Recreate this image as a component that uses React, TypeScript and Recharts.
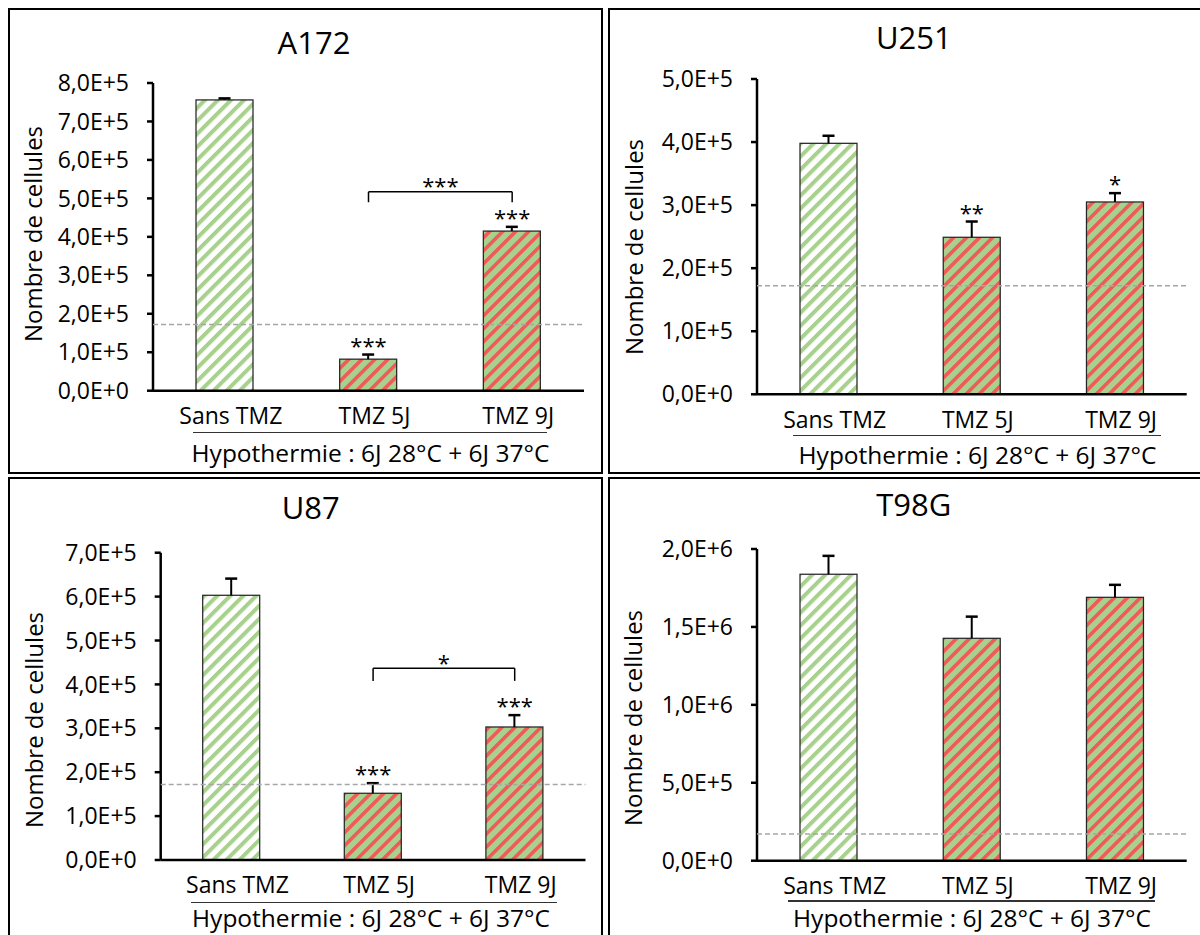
import {
  Bar,
  BarChart,
  Cell,
  ReferenceDot,
  ReferenceLine,
  XAxis,
  YAxis,
} from "recharts";

const CATEGORIES = ["Sans TMZ", "TMZ 5J", "TMZ 9J"];
const GROUP_LABEL = "Hypothermie : 6J 28°C + 6J 37°C";
const Y_LABEL = "Nombre de cellules";
const THRESHOLD = 172000;

const A172_VALUES = [756000, 82000, 415000];
const A172_ERRORS = [4000, 12000, 11000];
const A172_STARS = ["", "***", "***"];
const A172_TICKS = [0, 100000, 200000, 300000, 400000, 500000, 600000, 700000, 800000];
const A172_BRACKET = { from: "TMZ 5J", to: "TMZ 9J", top: 517000, leg: 490000, label: "***" };

const U251_VALUES = [398000, 249000, 305000];
const U251_ERRORS = [12000, 25000, 14000];
const U251_STARS = ["", "**", "*"];
const U251_TICKS = [0, 100000, 200000, 300000, 400000, 500000];

const U87_VALUES = [603000, 152000, 303000];
const U87_ERRORS = [38000, 23000, 27000];
const U87_STARS = ["", "***", "***"];
const U87_TICKS = [0, 100000, 200000, 300000, 400000, 500000, 600000, 700000];
const U87_BRACKET = { from: "TMZ 5J", to: "TMZ 9J", top: 437000, leg: 408000, label: "*" };

const T98G_VALUES = [1838000, 1427000, 1690000];
const T98G_ERRORS = [118000, 139000, 80000];
const T98G_STARS = ["", "", ""];
const T98G_TICKS = [0, 500000, 1000000, 1500000, 2000000];

const GREEN = "#a9d18e";
const RED = "#f05a5a";
const FONT = "'Open Sans', sans-serif";
const PANEL_W = 595;
const PANEL_H = 466;
const Y_AXIS_W = 100;
const X_AXIS_H = 40;

// "8,0E+5" style, like the Excel axis
function sci(v: number) {
  if (v === 0) return "0,0E+0";
  const exp = Math.floor(Math.log10(v) + 1e-9);
  const mant = (v / Math.pow(10, exp)).toFixed(1).replace(".", ",");
  return `${mant}E+${exp}`;
}

// bar + plus-only error bar (Excel style), error length taken from the bar's own scale
function BarWithError(props: any) {
  const { x, y, width, height, fill, payload } = props;
  if (!payload || !height) return null;
  const pxPerUnit = height / payload.value;
  const errTop = y - payload.err * pxPerUnit;
  const cx = x + width / 2;
  return (
    <g>
      <rect x={x} y={y} width={width} height={height} fill={fill} stroke="#262626" strokeWidth={1.25} />
      <line x1={cx} y1={y} x2={cx} y2={errTop} stroke="#000" strokeWidth={2} />
      <line x1={cx - 6} y1={errTop} x2={cx + 6} y2={errTop} stroke="#000" strokeWidth={2.5} />
    </g>
  );
}

type Bracket = { from: string; to: string; top: number; leg: number; label: string };

interface Layout {
  left: number;
  top: number;
  axisX: number;
  plotRight: number;
  plotTop: number;
  plotBottom: number;
  titleX: number;
  titleY: number;
  yLabelX: number;
  yLabelY: number;
  lineX1: number;
  lineX2: number;
  lineY: number;
  groupX: number;
  groupY: number;
}

interface PanelProps {
  id: string;
  title: string;
  values: number[];
  errors: number[];
  stars: string[];
  ticks: number[];
  bracket?: Bracket;
  layout: Layout;
}

function Panel({ id, title, values, errors, stars, ticks, bracket, layout: l }: PanelProps) {
  const data = CATEGORIES.map((name, i) => ({
    name,
    value: values[i],
    err: errors[i],
  }));
  const margin = {
    left: l.axisX - l.left - Y_AXIS_W,
    right: l.left + PANEL_W - l.plotRight,
    top: l.plotTop - l.top,
    bottom: l.top + PANEL_H - l.plotBottom - X_AXIS_H,
  };
  const starLabel = (value: string, offset: number) => ({
    value,
    position: "top" as const,
    offset,
    fill: "#000",
    fontSize: 22,
  });
  const bracketLines = bracket
    ? [
        { key: "h", seg: [{ x: bracket.from, y: bracket.top }, { x: bracket.to, y: bracket.top }], label: true },
        { key: "l", seg: [{ x: bracket.from, y: bracket.top }, { x: bracket.from, y: bracket.leg }], label: false },
        { key: "r", seg: [{ x: bracket.to, y: bracket.top }, { x: bracket.to, y: bracket.leg }], label: false },
      ]
    : [];

  return (
    <>
      <div
        style={{
          position: "absolute",
          left: l.left,
          top: l.top,
          width: PANEL_W,
          height: PANEL_H,
          border: "2px solid #000",
          boxSizing: "border-box",
          background: "#fff",
        }}
      />
      <div style={{ position: "absolute", left: l.left, top: l.top }}>
        <BarChart width={PANEL_W} height={PANEL_H} data={data} margin={margin} barSize={57}>
          <defs>
            <pattern id={`${id}-plain`} patternUnits="userSpaceOnUse" width={9.2} height={9.2} patternTransform="rotate(45)">
              <rect width={9.2} height={9.2} fill="#fff" />
              <rect width={4} height={9.2} fill={GREEN} />
            </pattern>
            <pattern id={`${id}-tmz`} patternUnits="userSpaceOnUse" width={9.2} height={9.2} patternTransform="rotate(45)">
              <rect width={9.2} height={9.2} fill={GREEN} />
              <rect width={3.6} height={9.2} fill={RED} />
            </pattern>
          </defs>
          <XAxis
            dataKey="name"
            height={X_AXIS_H}
            interval={0}
            tickLine={false}
            tickSize={0}
            tickMargin={17}
            axisLine={{ stroke: "#000", strokeWidth: 2.5 }}
            tick={{ fill: "#000", fontSize: 23, dx: 6 }}
          />
          <YAxis
            width={Y_AXIS_W}
            domain={[0, ticks[ticks.length - 1]]}
            ticks={ticks}
            interval={0}
            tickFormatter={sci}
            tickSize={6}
            tickMargin={18}
            axisLine={{ stroke: "#000", strokeWidth: 2.5 }}
            tickLine={{ stroke: "#000", strokeWidth: 2.5 }}
            tick={{ fill: "#000", fontSize: 23 }}
          />
          <Bar dataKey="value" shape={BarWithError} isAnimationActive={false}>
            {data.map((d, i) => (
              <Cell key={d.name} fill={i === 0 ? `url(#${id}-plain)` : `url(#${id}-tmz)`} />
            ))}
          </Bar>
          <ReferenceLine y={THRESHOLD} stroke="#a6a6a6" strokeWidth={1.5} strokeDasharray="5 3" zIndex={1000} />
          {stars.map((s, i) =>
            s ? (
              <ReferenceDot
                key={`star-${i}`}
                x={CATEGORIES[i]}
                y={values[i] + errors[i]}
                r={0}
                fill="none"
                stroke="none"
                label={starLabel(s, 1)}
              />
            ) : null
          )}
          {bracketLines.map((b) => (
            <ReferenceLine
              key={`br-${b.key}`}
              segment={b.seg}
              stroke="#000"
              strokeWidth={1.5}
              label={b.label && bracket ? starLabel(bracket.label, -2.5) : undefined}
            />
          ))}
        </BarChart>
      </div>
      <div
        style={{
          position: "absolute",
          left: l.titleX,
          top: l.titleY - 1,
          transform: "translate(-50%, -50%)",
          fontSize: 31,
          lineHeight: 1,
          whiteSpace: "nowrap",
        }}
      >
        {title}
      </div>
      <div
        style={{
          position: "absolute",
          left: l.yLabelX,
          top: l.yLabelY,
          transform: "translate(-50%, -50%) rotate(-90deg)",
          fontSize: 24,
          lineHeight: 1,
          whiteSpace: "nowrap",
        }}
      >
        {Y_LABEL}
      </div>
      <div
        style={{
          position: "absolute",
          left: l.lineX1,
          top: l.lineY - 0.75,
          width: l.lineX2 - l.lineX1,
          height: 1.5,
          background: "#333",
        }}
      />
      <div
        style={{
          position: "absolute",
          left: l.groupX,
          top: l.groupY - 0.5,
          transform: "translate(-50%, -50%)",
          fontSize: 24.5,
          lineHeight: 1,
          whiteSpace: "nowrap",
        }}
      >
        {GROUP_LABEL}
      </div>
    </>
  );
}

const LAYOUT_A172: Layout = {
  left: 8, top: 8, axisX: 153, plotRight: 584, plotTop: 83, plotBottom: 390.7,
  titleX: 314, titleY: 42.5, yLabelX: 32.5, yLabelY: 234,
  lineX1: 192.5, lineX2: 547, lineY: 432.3, groupX: 370.5, groupY: 453,
};
const LAYOUT_U251: Layout = {
  left: 608, top: 8, axisX: 757, plotRight: 1186.7, plotTop: 79, plotBottom: 394.3,
  titleX: 913.8, titleY: 38, yLabelX: 634.4, yLabelY: 246.7,
  lineX1: 793, lineX2: 1160.6, lineY: 435.7, groupX: 977.5, groupY: 455,
};
const LAYOUT_U87: Layout = {
  left: 8, top: 477, axisX: 160.7, plotRight: 585.5, plotTop: 552.7, plotBottom: 860,
  titleX: 310.8, titleY: 507.8, yLabelX: 34.4, yLabelY: 720,
  lineX1: 191.4, lineX2: 556.8, lineY: 902.3, groupX: 371, groupY: 918.3,
};
const LAYOUT_T98G: Layout = {
  left: 608, top: 477, axisX: 757, plotRight: 1186.7, plotTop: 549, plotBottom: 860.7,
  titleX: 913.8, titleY: 505.3, yLabelX: 632.5, yLabelY: 718.3,
  lineX1: 787.5, lineX2: 1155, lineY: 901, groupX: 972, groupY: 918.3,
};

export default function App() {
  return (
    <div
      style={{
        position: "absolute",
        left: 0,
        top: 0,
        width: 1200,
        height: 935,
        overflow: "hidden",
        background: "#fff",
        fontFamily: FONT,
        color: "#000",
      }}
    >
      <Panel id="a172" title="A172" values={A172_VALUES} errors={A172_ERRORS} stars={A172_STARS} ticks={A172_TICKS} bracket={A172_BRACKET} layout={LAYOUT_A172} />
      <Panel id="u251" title="U251" values={U251_VALUES} errors={U251_ERRORS} stars={U251_STARS} ticks={U251_TICKS} layout={LAYOUT_U251} />
      <Panel id="u87" title="U87" values={U87_VALUES} errors={U87_ERRORS} stars={U87_STARS} ticks={U87_TICKS} bracket={U87_BRACKET} layout={LAYOUT_U87} />
      <Panel id="t98g" title="T98G" values={T98G_VALUES} errors={T98G_ERRORS} stars={T98G_STARS} ticks={T98G_TICKS} layout={LAYOUT_T98G} />
    </div>
  );
}
